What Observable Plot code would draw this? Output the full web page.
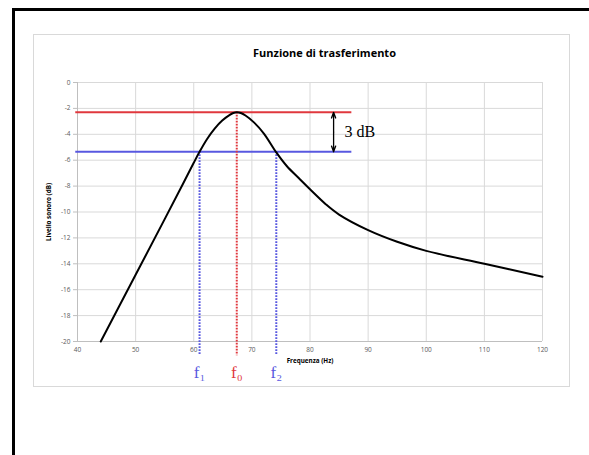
<!DOCTYPE html>
<html>
<head>
<meta charset="utf-8">
<script src="https://cdn.jsdelivr.net/npm/d3@7"></script>
<script src="https://cdn.jsdelivr.net/npm/@observablehq/plot@0.6"></script>
<style>
  html, body { margin: 0; padding: 0; background: #fff; overflow: hidden; }
  #wrap { position: relative; width: 589px; height: 455px; overflow: hidden; }
  #outer { position: absolute; left: 12px; top: 8px; width: 700px; height: 600px; border: 3px solid #000; box-sizing: border-box; pointer-events: none; }
  #inner { position: absolute; left: 33px; top: 34px; width: 537px; height: 353px; border: 1.5px solid #d9d9d9; box-sizing: border-box; pointer-events: none; }
  #chart { position: absolute; left: 0; top: 0; }
</style>
</head>
<body>
<div id="wrap">
  <div id="chart"></div>
  <div id="inner"></div>
  <div id="outer"></div>
</div>
<script>
// ---- data ----
const title = "Funzione di trasferimento";
const xLabel = "Frequenza (Hz)";
const yLabel = "Livello sonoro (dB)";
const xTicks = [40, 50, 60, 70, 80, 90, 100, 110, 120];
const yTicks = [0, -2, -4, -6, -8, -10, -12, -14, -16, -18, -20];

// transfer function curve
const freq  = [44, 50, 55, 58, 60, 61, 62.3, 63.6, 64.9, 66.2, 66.8, 67.4, 68.1, 68.9, 70.4, 72.1, 74.2, 76, 78.1, 80, 82.7, 85, 90, 95, 100, 110, 120];
const level = [-20, -14.85, -10.55, -7.95, -6.2, -5.35, -4.36, -3.56, -2.94, -2.5, -2.36, -2.3, -2.36, -2.55, -3.1, -3.96, -5.4, -6.45, -7.4, -8.25, -9.4, -10.2, -11.4, -12.3, -13.0, -14.0, -15.0];

// reference levels: peak and -3 dB
const refLevels = [-2.3, -5.35];
const refStart = 39.7;
const refEnd = 87.2;

// marked frequencies f1, f0, f2
const markFreq = [61.0, 67.4, 74.2];
const markLevel = [-5.35, -2.3, -5.35];
const markNames = ["f\u2081", "f\u2080", "f\u2082"];
const dottedBottom = -21.1;

// 3 dB annotation
const arrowFreq = 84.06;
const annText = "3 dB";
const annFreq = 85.95;

// ---- build ----
const RED = "#e0383e";
const BLUE = "#5858e0";
const markColors = [BLUE, RED, BLUE];

const curve = freq.map((f, i) => ({f, l: level[i]}));
const marks = markFreq.map((f, i) => ({f, l: markLevel[i], name: markNames[i], c: markColors[i]}));
const mid = (refLevels[0] + refLevels[1]) / 2;
const arrows = refLevels.map(l => ({x: arrowFreq, from: mid, to: l}));

const chart = Plot.plot({
  width: 589,
  height: 455,
  marginLeft: 77,
  marginRight: 47,
  marginTop: 82,
  marginBottom: 114,
  style: {background: "transparent", fontFamily: "'Open Sans', sans-serif"},
  x: {domain: [40, 120]},
  y: {domain: [-20, 0]},
  marks: [
    Plot.gridX(xTicks, {stroke: "#d9d9d9", strokeOpacity: 1, strokeWidth: 1}),
    Plot.gridY(yTicks, {stroke: "#d9d9d9", strokeOpacity: 1, strokeWidth: 1}),
    Plot.ruleX([40], {stroke: "#bfbfbf"}),
    Plot.ruleY([-20], {stroke: "#bfbfbf"}),
    Plot.axisY(yTicks, {tickSize: 4, tickPadding: 3, fontSize: 6.5, color: "#595959", stroke: "#bfbfbf",
      tickFormat: d => String(d), label: null}),
    Plot.axisX(xTicks, {tickSize: 0, tickPadding: 6, fontSize: 6.5, color: "#595959",
      tickFormat: d => String(d), label: null}),
    // reference horizontal lines
    Plot.ruleY(refLevels, {x1: refStart, x2: refEnd, stroke: (d, i) => i === 0 ? RED : BLUE, strokeWidth: 2}),
    // dotted verticals
    Plot.ruleX(marks, {x: "f", y1: "l", y2: dottedBottom, stroke: "c", strokeWidth: 2, strokeDasharray: "1.6,1.4"}),
    // curve
    Plot.line(curve, {x: "f", y: "l", stroke: "#000", strokeWidth: 2, curve: "catmull-rom"}),
    // double arrow
    Plot.arrow(arrows, {x1: "x", x2: "x", y1: "from", y2: "to", stroke: "#000", strokeWidth: 1.3, headLength: 7, headAngle: 40}),
    Plot.text([annText], {x: annFreq, y: mid, textAnchor: "start", fontFamily: "'Liberation Serif', serif", fontSize: 16, fill: "#000"}),
    // f labels
    Plot.text(marks, {x: "f", y: -20, text: "name", fill: "c", dy: 31, fontFamily: "'Liberation Serif', serif", fontSize: 17}),
    // titles
    Plot.text([title], {frameAnchor: "top", dx: 14.5, dy: -33, fontSize: 11, fontWeight: "bold", fill: "#000"}),
    Plot.text([xLabel], {frameAnchor: "bottom", dy: 21, fontSize: 6.3, fontWeight: "bold", fill: "#000"}),
    Plot.text([yLabel], {frameAnchor: "left", textAnchor: "middle", dx: -29, rotate: -90, fontSize: 6.3, fontWeight: "bold", fill: "#000"})
  ]
});
document.getElementById("chart").appendChild(chart);
</script>
</body>
</html>
